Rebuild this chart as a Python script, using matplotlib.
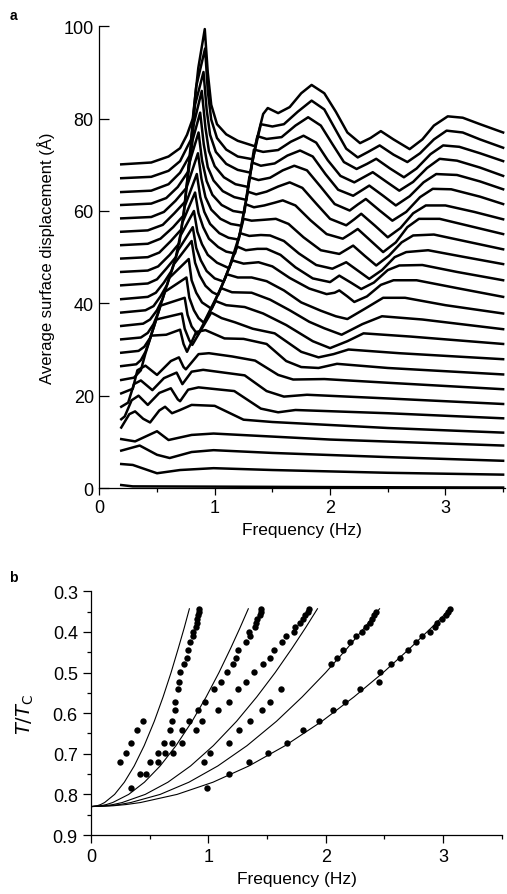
import numpy as np
import matplotlib
matplotlib.use("Agg")
import matplotlib.pyplot as plt
from matplotlib.ticker import MultipleLocator

plt.rcParams['font.family'] = ['Liberation Sans', 'DejaVu Sans']

# ---------------- panel a: stacked spectra, top curve first (freq, displacement) ----------------
curve_f = [
    [0.19, 0.45, 0.60, 0.70, 0.76, 0.81, 0.858, 0.914, 0.94, 0.97, 1.02, 1.10, 1.20, 1.35, 1.42, 1.46, 1.55, 1.65, 1.75, 1.84, 1.95, 2.05, 2.15, 2.26, 2.35, 2.44, 2.55, 2.69, 2.80, 2.90, 3.02, 3.15, 3.3, 3.5],
    [0.19, 0.45, 0.60, 0.70, 0.795, 0.84, 0.917, 0.94, 0.97, 1.02, 1.10, 1.20, 1.33, 1.40, 1.50, 1.60, 1.72, 1.84, 1.95, 2.05, 2.14, 2.24, 2.33, 2.43, 2.55, 2.67, 2.78, 2.90, 3.01, 3.15, 3.3, 3.5],
    [0.19, 0.45, 0.60, 0.70, 0.783, 0.83, 0.903, 0.93, 0.96, 1.01, 1.10, 1.20, 1.31, 1.37, 1.45, 1.58, 1.70, 1.81, 1.92, 2.02, 2.12, 2.23, 2.32, 2.40, 2.52, 2.64, 2.75, 2.87, 2.98, 3.12, 3.3, 3.5],
    [0.19, 0.45, 0.58, 0.68, 0.769, 0.82, 0.888, 0.92, 0.95, 1.0, 1.08, 1.18, 1.29, 1.34, 1.42, 1.55, 1.66, 1.77, 1.88, 1.98, 2.09, 2.21, 2.29, 2.37, 2.49, 2.60, 2.72, 2.84, 2.95, 3.1, 3.3, 3.5],
    [0.19, 0.45, 0.56, 0.66, 0.755, 0.81, 0.874, 0.905, 0.94, 0.99, 1.07, 1.17, 1.275, 1.325, 1.40, 1.52, 1.63, 1.74, 1.85, 1.96, 2.07, 2.20, 2.27, 2.34, 2.46, 2.57, 2.69, 2.81, 2.92, 3.1, 3.3, 3.5],
    [0.19, 0.42, 0.55, 0.65, 0.743, 0.775, 0.86, 0.89, 0.93, 0.98, 1.06, 1.16, 1.257, 1.30, 1.38, 1.48, 1.59, 1.69, 1.80, 1.92, 2.04, 2.17, 2.24, 2.31, 2.43, 2.54, 2.66, 2.78, 2.89, 3.05, 3.3, 3.5],
    [0.19, 0.42, 0.53, 0.64, 0.729, 0.755, 0.855, 0.885, 0.92, 0.97, 1.05, 1.14, 1.233, 1.285, 1.36, 1.45, 1.55, 1.65, 1.76, 1.88, 2.0, 2.14, 2.21, 2.27, 2.39, 2.50, 2.61, 2.72, 2.83, 3.0, 3.25, 3.5],
    [0.19, 0.42, 0.52, 0.62, 0.71, 0.74, 0.845, 0.875, 0.91, 0.96, 1.04, 1.12, 1.208, 1.265, 1.34, 1.43, 1.52, 1.59, 1.70, 1.83, 1.97, 2.11, 2.18, 2.24, 2.35, 2.46, 2.57, 2.67, 2.77, 2.95, 3.2, 3.5],
    [0.19, 0.42, 0.51, 0.61, 0.693, 0.72, 0.83, 0.86, 0.90, 0.95, 1.03, 1.10, 1.176, 1.25, 1.32, 1.43, 1.53, 1.64, 1.77, 1.92, 2.08, 2.14, 2.20, 2.30, 2.40, 2.51, 2.62, 2.72, 2.9, 3.2, 3.5],
    [0.19, 0.42, 0.50, 0.58, 0.663, 0.70, 0.82, 0.85, 0.89, 0.94, 1.02, 1.125, 1.22, 1.30, 1.40, 1.48, 1.60, 1.73, 1.88, 2.02, 2.08, 2.14, 2.24, 2.34, 2.45, 2.56, 2.66, 2.85, 3.15, 3.5],
    [0.19, 0.42, 0.49, 0.56, 0.625, 0.683, 0.81, 0.84, 0.88, 0.93, 1.0, 1.078, 1.195, 1.27, 1.37, 1.45, 1.57, 1.70, 1.85, 2.0, 2.04, 2.08, 2.18, 2.27, 2.38, 2.50, 2.60, 2.8, 3.1, 3.5],
    [0.19, 0.40, 0.47, 0.53, 0.587, 0.647, 0.80, 0.83, 0.87, 0.92, 0.98, 1.03, 1.152, 1.25, 1.38, 1.50, 1.65, 1.82, 1.97, 2.04, 2.08, 2.15, 2.21, 2.32, 2.44, 2.55, 2.75, 3.1, 3.5],
    [0.19, 0.38, 0.44, 0.50, 0.549, 0.606, 0.775, 0.80, 0.84, 0.89, 0.974, 1.105, 1.20, 1.32, 1.45, 1.60, 1.75, 1.92, 2.05, 2.15, 2.30, 2.46, 2.65, 3.0, 3.5],
    [0.19, 0.36, 0.42, 0.47, 0.511, 0.568, 0.755, 0.78, 0.82, 0.86, 0.905, 1.055, 1.15, 1.32, 1.48, 1.65, 1.82, 1.95, 2.10, 2.28, 2.45, 2.8, 3.5],
    [0.19, 0.34, 0.39, 0.44, 0.474, 0.53, 0.74, 0.765, 0.80, 0.853, 1.008, 1.10, 1.26, 1.42, 1.62, 1.85, 2.0, 2.15, 2.29, 2.7, 3.5],
    [0.19, 0.32, 0.36, 0.40, 0.435, 0.493, 0.715, 0.74, 0.78, 0.806, 0.97, 1.06, 1.175, 1.33, 1.52, 1.75, 1.90, 2.03, 2.16, 2.6, 3.5],
    [0.19, 0.30, 0.36, 0.398, 0.449, 0.58, 0.70, 0.73, 0.76, 0.84, 0.92, 1.085, 1.25, 1.45, 1.62, 1.75, 1.90, 2.06, 2.5, 3.5],
    [0.19, 0.29, 0.33, 0.40, 0.50, 0.62, 0.69, 0.73, 0.75, 0.86, 0.95, 1.15, 1.35, 1.55, 1.68, 1.95, 2.5, 3.5],
    [0.19, 0.25, 0.30, 0.36, 0.46, 0.56, 0.67, 0.71, 0.72, 0.80, 0.90, 1.26, 1.45, 1.60, 1.80, 2.5, 3.5],
    [0.19, 0.22, 0.28, 0.34, 0.42, 0.52, 0.62, 0.68, 0.70, 0.77, 0.86, 1.17, 1.40, 1.55, 1.70, 2.5, 3.5],
    [0.19, 0.26, 0.31, 0.38, 0.44, 0.52, 0.57, 0.63, 0.70, 0.80, 1.0, 1.25, 1.5, 2.5, 3.5],
    [0.19, 0.31, 0.50, 0.60, 0.80, 0.99, 1.3, 2.0, 3.5],
    [0.19, 0.35, 0.50, 0.61, 0.80, 0.99, 1.5, 2.5, 3.5],
    [0.19, 0.29, 0.50, 0.70, 0.99, 1.5, 2.5, 3.5],
    [0.19, 0.29, 1.0, 2.0, 3.5],
]
curve_amp = [
    [70.1, 70.5, 71.8, 73.6, 76.5, 80.0, 91.0, 99.4, 90.0, 83.0, 78.8, 76.6, 75.2, 74.0, 81.0, 82.3, 81.2, 82.5, 85.5, 87.3, 85.5, 81.5, 77.0, 74.7, 75.8, 77.3, 75.5, 73.4, 75.5, 78.5, 80.5, 80.2, 78.8, 77.0],
    [67.1, 67.4, 68.7, 70.8, 75.5, 87.0, 95.2, 86.0, 79.8, 75.8, 73.3, 71.8, 71.2, 78.8, 78.3, 78.8, 81.5, 83.9, 82.0, 77.5, 73.5, 71.6, 72.8, 74.2, 72.2, 70.6, 72.5, 75.5, 77.4, 77.0, 75.5, 73.7],
    [64.1, 64.4, 65.8, 68.3, 72.0, 83.0, 90.1, 82.0, 76.5, 72.8, 70.2, 68.9, 68.3, 76.2, 75.6, 76.0, 78.5, 80.3, 78.5, 74.5, 70.6, 69.1, 70.2, 71.3, 69.2, 67.3, 69.2, 72.3, 74.2, 73.9, 72.5, 70.8],
    [61.3, 61.6, 62.8, 65.2, 68.5, 79.0, 86.0, 78.0, 73.0, 69.7, 67.3, 65.8, 65.2, 73.3, 72.8, 73.2, 75.0, 76.3, 74.8, 71.0, 67.6, 66.2, 67.3, 68.4, 66.3, 64.4, 66.3, 69.3, 71.3, 70.9, 69.4, 67.6],
    [58.4, 58.7, 59.8, 62.2, 65.0, 75.5, 81.3, 74.5, 69.5, 66.6, 64.3, 63.0, 62.4, 70.5, 69.8, 70.3, 72.0, 73.1, 71.8, 68.0, 64.6, 63.3, 64.4, 65.5, 63.3, 61.2, 63.2, 66.2, 68.0, 67.8, 66.4, 64.7],
    [55.5, 55.8, 57.0, 59.5, 62.0, 70.0, 77.0, 71.0, 66.5, 63.5, 61.3, 60.0, 59.6, 67.3, 66.7, 67.2, 68.8, 69.8, 68.8, 65.2, 61.5, 60.1, 61.4, 62.6, 60.1, 57.9, 59.8, 63.0, 64.8, 64.7, 63.1, 61.5],
    [52.6, 52.9, 54.0, 56.5, 59.0, 65.0, 72.5, 67.0, 63.0, 60.3, 58.3, 57.2, 56.8, 64.2, 63.6, 64.2, 65.3, 66.2, 65.0, 61.6, 58.3, 56.9, 58.2, 59.4, 56.8, 54.3, 56.3, 59.5, 61.2, 61.2, 59.8, 58.2],
    [49.7, 50.0, 51.0, 53.5, 56.0, 61.0, 68.0, 63.0, 59.8, 57.2, 55.2, 54.2, 53.8, 61.5, 60.8, 61.2, 61.8, 62.3, 61.2, 58.0, 55.0, 54.0, 55.1, 56.1, 53.6, 51.1, 53.2, 56.5, 58.3, 58.3, 56.8, 55.0],
    [46.8, 47.1, 48.0, 50.5, 53.0, 57.5, 64.0, 59.5, 56.5, 54.0, 52.2, 51.2, 50.8, 58.3, 57.9, 58.1, 58.3, 57.2, 54.3, 51.5, 50.7, 51.6, 52.5, 50.3, 48.2, 50.3, 53.2, 54.7, 54.9, 53.3, 51.7],
    [43.9, 44.3, 45.2, 47.5, 50.0, 54.5, 60.0, 55.5, 52.8, 50.5, 48.8, 47.6, 55.2, 54.6, 54.8, 54.7, 53.5, 50.8, 48.3, 47.5, 48.2, 48.9, 47.1, 45.3, 47.2, 50.0, 51.1, 51.5, 50.1, 48.5],
    [40.9, 41.4, 42.3, 44.5, 47.0, 51.5, 56.5, 52.0, 49.3, 47.0, 45.4, 44.7, 52.3, 51.5, 51.8, 51.8, 50.5, 47.8, 45.4, 44.6, 45.3, 46.0, 44.5, 43.1, 44.5, 47.2, 48.2, 48.3, 46.8, 45.0],
    [38.0, 38.5, 39.4, 41.5, 44.0, 48.5, 53.5, 48.8, 46.0, 43.8, 42.4, 41.8, 49.3, 48.6, 48.9, 48.0, 45.5, 43.2, 42.0, 42.3, 42.8, 41.5, 40.3, 41.5, 44.0, 45.0, 45.0, 43.3, 41.4],
    [35.1, 35.6, 36.5, 38.5, 41.0, 45.5, 49.6, 45.0, 42.3, 40.2, 38.8, 46.3, 45.6, 45.6, 44.8, 42.8, 40.2, 38.4, 37.2, 36.6, 38.8, 41.2, 41.2, 39.6, 37.8],
    [32.2, 32.6, 33.6, 35.5, 38.0, 42.5, 45.6, 41.2, 38.5, 36.8, 35.8, 43.3, 42.4, 42.3, 40.8, 38.5, 36.0, 34.6, 33.2, 35.5, 37.2, 36.5, 34.4],
    [29.3, 29.7, 30.6, 32.5, 35.0, 39.5, 41.2, 37.5, 35.0, 33.2, 40.5, 39.6, 39.2, 37.8, 35.3, 31.8, 30.3, 31.8, 33.5, 32.8, 31.2],
    [26.4, 26.8, 27.7, 29.5, 32.0, 36.5, 37.8, 34.5, 32.0, 31.0, 38.0, 36.8, 35.9, 34.5, 33.5, 29.5, 28.3, 29.0, 30.0, 29.2, 27.9],
    [23.4, 23.9, 25.5, 29.0, 33.0, 33.2, 34.3, 31.2, 29.5, 33.8, 34.2, 32.4, 32.3, 31.2, 27.5, 26.2, 26.0, 26.9, 26.0, 24.6],
    [20.5, 21.5, 25.5, 26.5, 24.5, 27.5, 28.3, 26.2, 25.7, 29.0, 29.2, 28.5, 27.6, 24.5, 23.5, 23.6, 22.8, 21.4],
    [17.6, 18.5, 22.5, 23.3, 21.2, 23.8, 25.0, 23.0, 22.5, 25.2, 25.6, 24.4, 21.0, 19.8, 20.2, 19.4, 18.2],
    [14.9, 15.5, 19.0, 20.0, 18.0, 20.6, 21.6, 19.2, 18.8, 21.3, 21.8, 21.0, 17.2, 16.4, 16.9, 16.2, 15.1],
    [13.1, 16.0, 16.6, 15.0, 14.2, 16.8, 17.6, 16.2, 16.9, 18.0, 17.8, 14.8, 14.3, 13.0, 12.0],
    [10.6, 10.1, 12.3, 10.4, 11.5, 11.8, 11.4, 10.5, 9.2],
    [8.1, 9.2, 7.2, 6.5, 7.8, 8.2, 7.6, 6.7, 5.9],
    [5.2, 5.0, 3.2, 3.9, 4.3, 3.9, 3.3, 2.9],
    [0.65, 0.36, 0.3, 0.2, 0.1],
]

# ---------------- panel b: mode frequencies vs reduced temperature ----------------
t_rows = [0.343, 0.351, 0.359, 0.369, 0.377, 0.387, 0.400, 0.411, 0.425, 0.445, 0.465,
          0.479, 0.499, 0.523, 0.541, 0.573, 0.592, 0.619, 0.642, 0.673, 0.699, 0.720,
          0.749, 0.784]
f_rows = [
    [0.920, 1.448, 1.860, 3.058],
    [0.920, 1.448, 1.846, 2.428, 3.044],
    [0.914, 1.440, 1.823, 2.414, 3.022],
    [0.906, 1.411, 1.803, 2.391, 2.987],
    [0.900, 1.403, 1.780, 2.377, 2.950],
    [0.892, 1.397, 1.738, 2.342, 2.930],
    [0.872, 1.349, 1.729, 2.306, 2.889],
    [0.872, 1.354, 1.661, 2.257, 2.816],
    [0.843, 1.320, 1.624, 2.206, 2.768],
    [0.829, 1.255, 1.559, 2.150, 2.703],
    [0.815, 1.235, 1.525, 2.093, 2.632],
    [0.795, 1.207, 1.462, 2.041, 2.553],
    [0.758, 1.156, 1.391, 2.462],
    [0.752, 1.105, 1.320, 2.453],
    [0.744, 1.048, 1.255, 1.616, 2.292],
    [0.716, 0.971, 1.175, 1.525, 2.164],
    [0.716, 0.914, 1.085, 1.454, 2.059],
    [0.446, 0.687, 0.835, 0.943, 1.354, 1.945],
    [0.395, 0.673, 0.772, 0.894, 1.263, 1.803],
    [0.338, 0.622, 0.687, 0.772, 1.175, 1.672],
    [0.298, 0.568, 0.630, 0.696, 1.014, 1.505],
    [0.247, 0.503, 0.568, 0.965, 1.346],
    [0.417, 0.469, 1.175],
    [0.338, 0.985],
]

# theory curves
theory_t = [0.830, 0.828, 0.825, 0.82, 0.80, 0.77, 0.73, 0.68, 0.62, 0.56, 0.50, 0.44, 0.39, 0.343]
theory_f = [
    [0, 0.052, 0.082, 0.116, 0.201, 0.284, 0.368, 0.453, 0.539, 0.614, 0.682, 0.744, 0.794, 0.838],
    [0, 0.083, 0.131, 0.185, 0.321, 0.455, 0.589, 0.724, 0.861, 0.981, 1.090, 1.190, 1.269, 1.340],
    [0, 0.119, 0.188, 0.266, 0.462, 0.655, 0.848, 1.042, 1.240, 1.412, 1.569, 1.713, 1.827, 1.929],
    [0, 0.152, 0.240, 0.339, 0.589, 0.834, 1.080, 1.329, 1.580, 1.799, 1.999, 2.183, 2.328, 2.458],
    [0, 0.189, 0.298, 0.422, 0.733, 1.039, 1.345, 1.654, 1.967, 2.240, 2.489, 2.718, 2.898, 3.060],
]

fig = plt.figure(figsize=(5.07, 8.95), dpi=100)

# panel a
ax_a = fig.add_axes([0.1959, 0.4536, 0.801, 0.5159])
for fx, amp in zip(curve_f, curve_amp):
    ax_a.plot(fx, amp, color='black', lw=1.8, solid_joinstyle='round')
ax_a.set_xlim(0, 3.52)
ax_a.set_ylim(0, 100)
ax_a.xaxis.set_major_locator(MultipleLocator(1))
ax_a.xaxis.set_minor_locator(MultipleLocator(0.5))
ax_a.yaxis.set_major_locator(MultipleLocator(20))
ax_a.tick_params(axis='x', which='major', direction='out', length=5, width=0.9, labelsize=13, pad=3)
ax_a.tick_params(axis='x', which='minor', direction='out', length=3, width=0.9)
ax_a.tick_params(axis='y', which='major', direction='in', length=7, width=0.9, labelsize=13, pad=4)
for s in ['top', 'right']:
    ax_a.spines[s].set_visible(False)
for s in ['left', 'bottom']:
    ax_a.spines[s].set_linewidth(0.9)
ax_a.set_xlabel('Frequency (Hz)', fontsize=12.5, labelpad=4)
ax_a.set_ylabel('Average surface displacement (Å)', fontsize=12, labelpad=6)

# panel b
ax_b = fig.add_axes([0.1795, 0.0659, 0.8104, 0.2723])
for tf in theory_f:
    ax_b.plot(tf, theory_t, color='black', lw=0.8)
for t, fs in zip(t_rows, f_rows):
    ax_b.plot(fs, [t] * len(fs), 'o', color='black', ms=4.6, mec='none')
ax_b.set_xlim(0, 3.5)
ax_b.set_ylim(0.9, 0.3)
ax_b.xaxis.set_major_locator(MultipleLocator(1))
ax_b.xaxis.set_minor_locator(MultipleLocator(0.5))
ax_b.yaxis.set_major_locator(MultipleLocator(0.1))
ax_b.yaxis.set_minor_locator(MultipleLocator(0.05))
ax_b.yaxis.set_major_formatter(plt.FuncFormatter(lambda v, p: f"{v:.1f}"))
ax_b.tick_params(axis='both', which='major', direction='out', length=6, width=0.9, labelsize=13)
ax_b.tick_params(axis='both', which='minor', direction='out', length=3, width=0.9)
for s in ['top', 'right']:
    ax_b.spines[s].set_visible(False)
for s in ['left', 'bottom']:
    ax_b.spines[s].set_linewidth(0.9)
ax_b.set_xlabel('Frequency (Hz)', fontsize=12.5, labelpad=4)
ax_b.set_ylabel(r'$T/T_{\rm C}$', fontsize=14, labelpad=12)

fig.text(0.018, 0.99, 'a', fontsize=10, fontweight='bold', va='top')
fig.text(0.018, 0.362, 'b', fontsize=10, fontweight='bold', va='top')

fig.savefig('out.png', dpi=100)
